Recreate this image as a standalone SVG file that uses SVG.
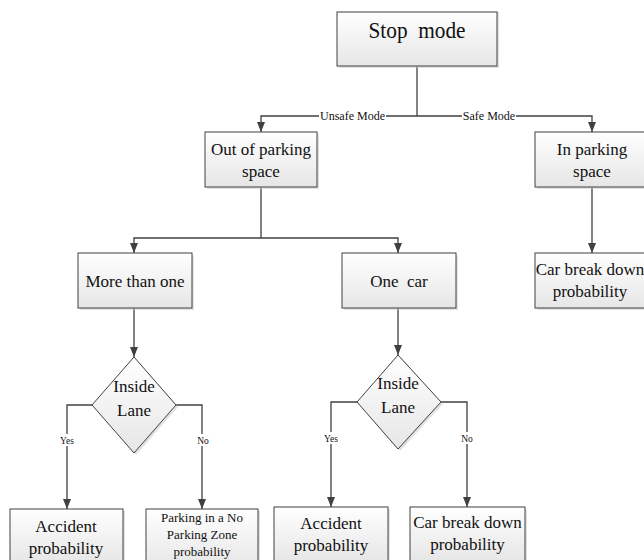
<svg xmlns="http://www.w3.org/2000/svg" width="644" height="560" viewBox="0 0 644 560">
<defs>
<linearGradient id="g" x1="0" y1="0" x2="0" y2="1">
<stop offset="0" stop-color="#ffffff"/>
<stop offset="1" stop-color="#e6e6e6"/>
</linearGradient>
<marker id="ah" markerUnits="userSpaceOnUse" markerWidth="10" markerHeight="8" refX="10" refY="4" orient="auto">
<path d="M0,0 L10,4 L0,8 z" fill="#404040"/>
</marker>
</defs>
<style>
.box{fill:url(#g);stroke:#404040;stroke-width:1}
.sh{fill:#cfcfcf;opacity:0.6}
.t{font-family:"Liberation Serif","Times New Roman",serif;font-size:17px;fill:#111;text-anchor:middle}
.big{font-size:23px}
.sm{font-size:12px}
.xs{font-size:9.5px}
.mid{font-size:13px}
.c{fill:none;stroke:#404040;stroke-width:1.3}
.lb{fill:#fff}
</style>
<rect width="644" height="560" fill="#fff"/>

<g id="connectors">
<path class="c" d="M417,66 V116"/>
<path class="c" d="M417,116 H261 V132" marker-end="url(#ah)"/>
<path class="c" d="M417,116 H592 V132" marker-end="url(#ah)"/>
<path class="c" d="M261,187 V238"/>
<path class="c" d="M261,238 H134 V253" marker-end="url(#ah)"/>
<path class="c" d="M261,238 H398 V253" marker-end="url(#ah)"/>
<path class="c" d="M592,187 V253" marker-end="url(#ah)"/>
<path class="c" d="M134,308 V357" marker-end="url(#ah)"/>
<path class="c" d="M398,308 V355" marker-end="url(#ah)"/>
<path class="c" d="M92,405 H67 V509" marker-end="url(#ah)"/>
<path class="c" d="M176,405 H202 V509" marker-end="url(#ah)"/>
<path class="c" d="M357,402 H331 V507" marker-end="url(#ah)"/>
<path class="c" d="M441,402 H467 V507" marker-end="url(#ah)"/>
<rect class="lb" x="319" y="109" width="67" height="14"/>
<text class="t sm" x="352.5" y="120">Unsafe Mode</text>
<rect class="lb" x="462" y="109" width="54" height="14"/>
<text class="t sm" x="489" y="120">Safe Mode</text>
<rect class="lb" x="59" y="434" width="16" height="12"/>
<text class="t xs" x="67" y="444">Yes</text>
<rect class="lb" x="196" y="434" width="14" height="12"/>
<text class="t xs" x="203" y="444">No</text>
<rect class="lb" x="323" y="432" width="16" height="12"/>
<text class="t xs" x="331" y="442">Yes</text>
<rect class="lb" x="460" y="432" width="14" height="12"/>
<text class="t xs" x="467" y="442">No</text>
</g>

<g id="stop-mode">
<rect class="sh" x="339" y="12" width="160" height="56"/>
<rect class="box" x="337" y="12" width="160" height="54"/>
<text class="t big" x="417" y="38" textLength="97" lengthAdjust="spacingAndGlyphs" xml:space="preserve">Stop  mode</text>
</g>

<g id="out-of-parking">
<rect class="sh" x="207" y="134" width="112" height="55"/>
<rect class="box" x="205" y="132" width="112" height="55"/>
<text class="t" x="261" y="155">Out of parking</text>
<text class="t" x="261" y="177">space</text>
</g>

<g id="in-parking">
<rect class="sh" x="537" y="134" width="114" height="55"/>
<rect class="box" x="535" y="132" width="114" height="55"/>
<text class="t" x="592" y="155">In parking</text>
<text class="t" x="592" y="177">space</text>
</g>

<g id="car-break-down-right">
<rect class="sh" x="537" y="255" width="114" height="55"/>
<rect class="box" x="535" y="253" width="114" height="55"/>
<text class="t" x="590" y="275">Car break down</text>
<text class="t" x="590" y="297">probability</text>
</g>

<g id="more-than-one">
<rect class="sh" x="80" y="255" width="114" height="55"/>
<rect class="box" x="78" y="253" width="114" height="55"/>
<text class="t" x="135" y="287">More than one</text>
</g>

<g id="one-car">
<rect class="sh" x="344" y="255" width="114" height="55"/>
<rect class="box" x="342" y="253" width="114" height="55"/>
<text class="t" x="399" y="287" xml:space="preserve">One  car</text>
</g>

<g id="inside-lane-1">
<path class="sh" d="M136,359 L178,407 L136,455 L94,407 z"/>
<path class="box" d="M134,357 L176,405 L134,453 L92,405 z"/>
<text class="t" x="134" y="392">Inside</text>
<text class="t" x="134" y="416">Lane</text>
</g>

<g id="inside-lane-2">
<path class="sh" d="M400,357 L443,404 L400,451 L359,404 z"/>
<path class="box" d="M398,355 L441,402 L398,449 L357,402 z"/>
<text class="t" x="398" y="389">Inside</text>
<text class="t" x="398" y="413">Lane</text>
</g>

<g id="accident-1">
<rect class="sh" x="12" y="511" width="113" height="55"/>
<rect class="box" x="10" y="509" width="113" height="55"/>
<text class="t" x="66" y="532">Accident</text>
<text class="t" x="66" y="554">probability</text>
</g>

<g id="no-parking-zone">
<rect class="sh" x="148" y="511" width="112" height="60"/>
<rect class="box" x="146" y="509" width="112" height="60"/>
<text class="t mid" x="202" y="522">Parking in a No</text>
<text class="t mid" x="202" y="539">Parking Zone</text>
<text class="t mid" x="202" y="556">probability</text>
</g>

<g id="accident-2">
<rect class="sh" x="276" y="509" width="114" height="55"/>
<rect class="box" x="274" y="507" width="114" height="55"/>
<text class="t" x="331" y="529">Accident</text>
<text class="t" x="331" y="551">probability</text>
</g>

<g id="car-break-down-bottom">
<rect class="sh" x="412" y="509" width="115" height="55"/>
<rect class="box" x="410" y="507" width="115" height="55"/>
<text class="t" x="467.5" y="528">Car break down</text>
<text class="t" x="467.5" y="550">probability</text>
</g>
</svg>
